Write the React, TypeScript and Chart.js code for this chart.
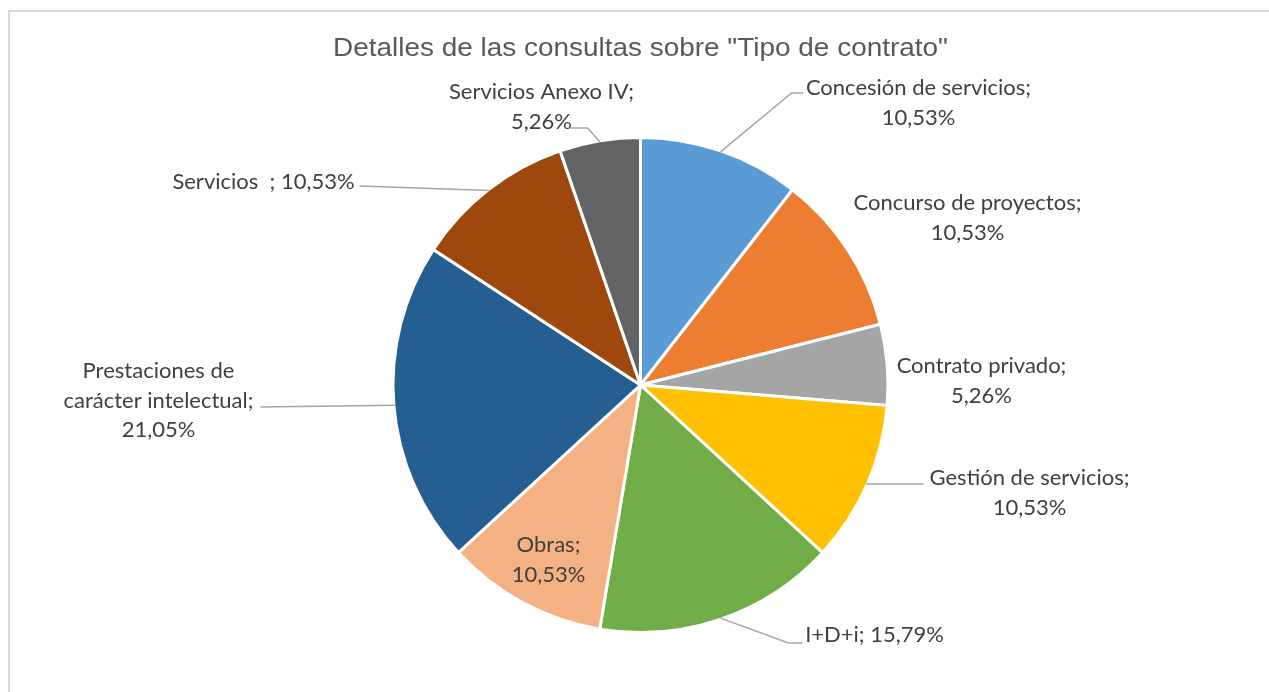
import React, { useEffect, useRef } from "react";
import { Chart, registerables } from "chart.js";

Chart.register(...registerables);

const categories = [
  "Concesión de servicios",
  "Concurso de proyectos",
  "Contrato privado",
  "Gestión de servicios",
  "I+D+i",
  "Obras",
  "Prestaciones de carácter intelectual",
  "Servicios ",
  "Servicios Anexo IV",
];
const percentages = [10.53, 10.53, 5.26, 10.53, 15.79, 10.53, 21.05, 10.53, 5.26];
const sliceColors = [
  "#5B9BD5",
  "#ED7D31",
  "#A5A5A5",
  "#FFC000",
  "#70AD47",
  "#F4B183",
  "#255E91",
  "#9E480E",
  "#636363",
];
const labelLines = [
  ["Concesión de servicios;", "10,53%"],
  ["Concurso de proyectos;", "10,53%"],
  ["Contrato privado;", "5,26%"],
  ["Gestión de servicios;", "10,53%"],
  ["I+D+i; 15,79%"],
  ["Obras;", "10,53%"],
  ["Prestaciones de", "carácter intelectual;", "21,05%"],
  ["Servicios  ; 10,53%"],
  ["Servicios Anexo IV;", "5,26%"],
];
const titleText = 'Detalles de las consultas sobre "Tipo de contrato"';

// layout: label block (first line middle) offsets from the pie centre, and leader polylines
const labelOffsets = [
  [278, -297],
  [327, -182],
  [341, -19],
  [389, 93],
  [234, 250],
  [-92, 160],
  [-482, -14],
  [-377, -203],
  [-99, -293],
];
const leaderPaths: number[][][] = [
  [[151, -292], [163, -292]],
  [],
  [],
  [[283, 99]],
  [[148, 258], [162, 258]],
  [],
  [[-380, 22]],
  [[-281, -199]],
  [[-53, -257], [-70, -257]],
];

const LINE_H = 29.5;
const LABEL_FONT = '22px Lato, "Open Sans", sans-serif';
const TITLE_FONT = '26px "Liberation Sans", Arial, sans-serif';
const TITLE_WIDTH = 615;

const labelPlugin = {
  id: "excelLabels",
  afterDatasetsDraw(chart: any) {
    const ctx = chart.ctx as CanvasRenderingContext2D;
    const meta = chart.getDatasetMeta(0);
    const arcs = meta.data as any[];
    if (!arcs.length) return;
    const cx = arcs[0].x;
    const cy = arcs[0].y;
    ctx.save();
    // title
    ctx.font = TITLE_FONT;
    ctx.fillStyle = "#595959";
    ctx.textAlign = "center";
    ctx.textBaseline = "alphabetic";
    const w = ctx.measureText(titleText).width;
    const sx = TITLE_WIDTH / w;
    ctx.save();
    ctx.translate(cx, 56);
    ctx.scale(sx, 1);
    ctx.fillText(titleText, 0, 0);
    ctx.restore();

    // leaders
    ctx.strokeStyle = "#A6A6A6";
    ctx.lineWidth = 1.5;
    arcs.forEach((arc, i) => {
      const path = leaderPaths[i];
      if (!path || !path.length) return;
      const mid = (arc.startAngle + arc.endAngle) / 2;
      const r = arc.outerRadius - 1;
      ctx.beginPath();
      ctx.moveTo(cx + Math.cos(mid) * r, cy + Math.sin(mid) * r);
      path.forEach((p) => ctx.lineTo(cx + p[0], cy + p[1]));
      ctx.stroke();
    });

    // labels
    ctx.font = LABEL_FONT;
    ctx.fillStyle = "#404040";
    ctx.textAlign = "center";
    ctx.textBaseline = "middle";
    labelLines.forEach((lines, i) => {
      const [dx, dy] = labelOffsets[i];
      lines.forEach((t, j) => {
        ctx.fillText(t, cx + dx, cy + dy + j * LINE_H);
      });
    });
    ctx.restore();
  },
};

export default function App() {
  const ref = useRef<HTMLCanvasElement | null>(null);
  useEffect(() => {
    document.body.style.margin = "0";
    const canvas = ref.current;
    if (!canvas) return;
    const chart = new Chart(canvas, {
      type: "pie",
      data: {
        labels: categories,
        datasets: [
          {
            data: percentages,
            backgroundColor: sliceColors,
            borderColor: "#FFFFFF",
            borderWidth: 3,
          },
        ],
      },
      options: {
        responsive: false,
        animation: false,
        devicePixelRatio: 1,
        layout: { padding: { top: 136, bottom: 58, left: 100, right: 88 } },
        plugins: {
          legend: { display: false },
          tooltip: { enabled: false },
          title: { display: false },
        },
      },
      plugins: [labelPlugin],
    });
    return () => chart.destroy();
  }, []);
  return (
    <div style={{ position: "fixed", left: 0, top: 0, width: 1269, height: 692, background: "#fff", overflow: "hidden" }}>
      <div
        style={{
          position: "absolute",
          left: 8,
          top: 10,
          width: 1261,
          height: 682,
          boxSizing: "border-box",
          borderTop: "2px solid #D9D9D9",
          borderLeft: "2px solid #D9D9D9",
        }}
      />
      <canvas ref={ref} width={1269} height={692} style={{ position: "absolute", left: 0, top: 0, width: 1269, height: 692 }} />
    </div>
  );
}
